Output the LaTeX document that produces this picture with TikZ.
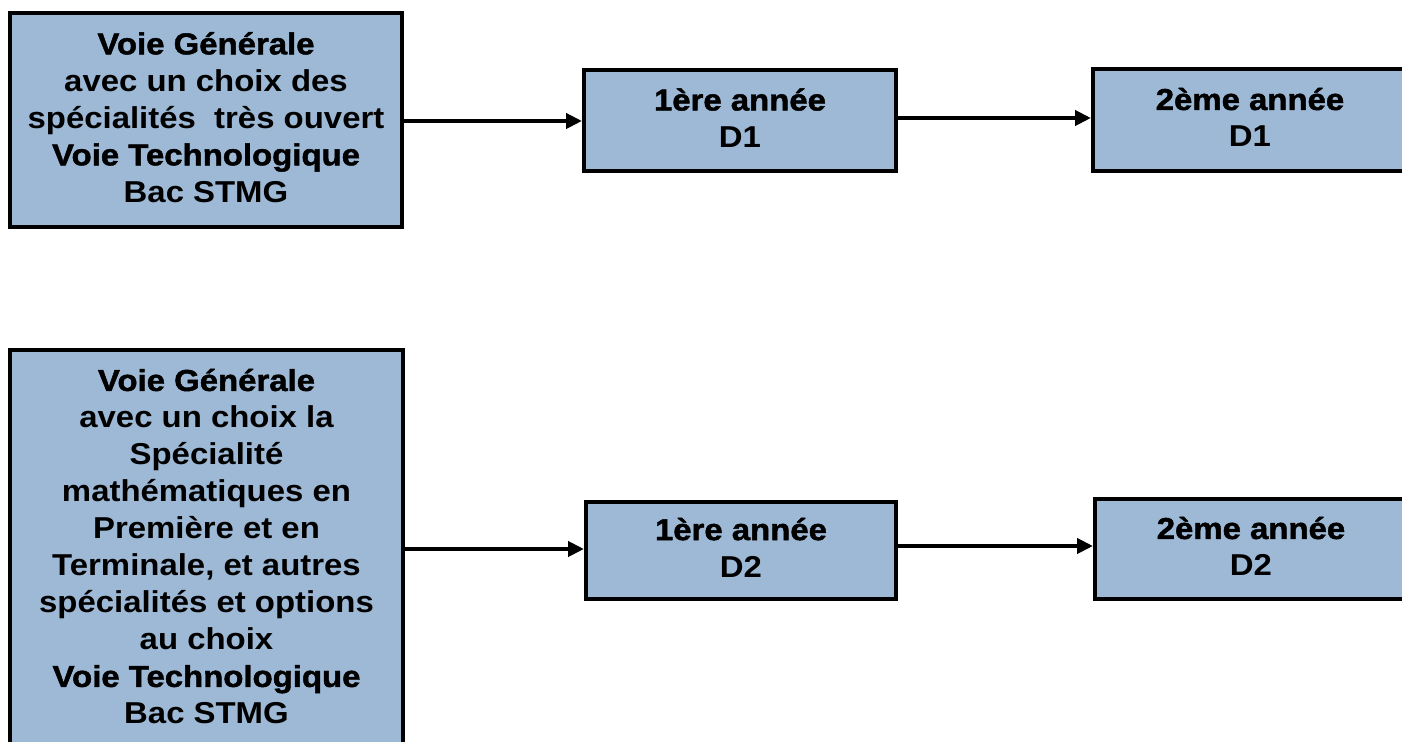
\documentclass[tikz,border=0pt]{standalone}
\usepackage{fontspec}
\setmainfont{Liberation Sans}[FakeStretch=1.09]
\newfontfamily\heavyfont{Liberation Sans}[FakeBold=1.5,FakeStretch=1.09]
\usetikzlibrary{arrows.meta}
\definecolor{boxblue}{RGB}{157,185,213}
\begin{document}
\begin{tikzpicture}[x=0.5pt,y=-0.5pt,
  box/.style={draw=black, line width=2pt, fill=boxblue, rectangle, inner sep=0pt},
  txt/.style={inner sep=0pt, align=center, font=\fontsize{15.1}{18.5}\selectfont\bfseries},
  conn/.style={line width=2pt, -{Triangle[length=8pt,width=7.5pt]}}]
\useasboundingbox (0,0) rectangle (1402,742);
\clip (0,0) rectangle (1402,742);
% top row
\node[box, minimum width=196pt, minimum height=107pt] (tl) at (206,120) {};
\node[txt] (tlt) at ([yshift=1.3pt]tl.center)
  {{\heavyfont Voie Générale}\\avec un choix des\\spécialités\ \ très ouvert\\{\heavyfont Voie Technologique}\\Bac STMG};
\node[box, minimum width=156pt, minimum height=50.5pt] (tm) at (740,120.5) {};
\node[txt] (tmt) at ([yshift=1.3pt]tm.center) {{\heavyfont 1ère année}\\D1};
\node[box, minimum width=157pt, minimum height=51pt] (tr) at (1250,120) {};
\node[txt] (trt) at ([yshift=1.3pt]tr.center) {{\heavyfont 2ème année}\\D1};
% bottom row
\node[box, minimum width=196.5pt, minimum height=197.5pt] (bl) at (206.5,547.5) {};
\node[txt] (blt) at ([yshift=0.5pt]bl.center)
  {{\heavyfont Voie Générale}\\avec un choix la\\Spécialité\\mathématiques en\\Première et en\\Terminale, et autres\\spécialités et options\\au choix\\{\heavyfont Voie Technologique}\\Bac STMG};
\node[box, minimum width=155pt, minimum height=48.5pt] (bm) at (741,550.5) {};
\node[txt] (bmt) at ([yshift=1.5pt]bm.center) {{\heavyfont 1ère année}\\D2};
\node[box, minimum width=156pt, minimum height=50pt] (br) at (1251,549) {};
\node[txt] (brt) at ([yshift=1.3pt]br.center) {{\heavyfont 2ème année}\\D2};
% connectors
\draw[conn] (tl.east |- 0,121) -- (tm.west |- 0,121);
\draw[conn] (tm.east |- 0,118) -- (tr.west |- 0,118);
\draw[conn] (bl.east |- 0,549) -- (bm.west |- 0,549);
\draw[conn] (bm.east |- 0,546) -- (br.west |- 0,546);
\end{tikzpicture}
\end{document}
